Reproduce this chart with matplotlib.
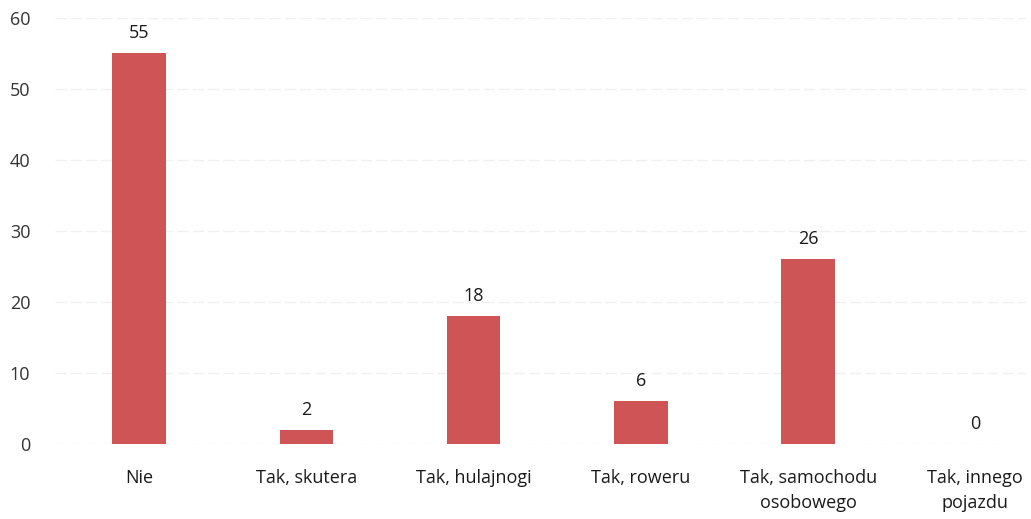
import matplotlib.pyplot as plt
import numpy as np

plt.rcParams['font.family'] = ['Open Sans', 'DejaVu Sans']

categories = ['Nie', 'Tak, skutera', 'Tak, hulajnogi', 'Tak, roweru',
              'Tak, samochodu\nosobowego', 'Tak, innego\npojazdu']
values = [55, 2, 18, 6, 26, 0]
yticks = [0, 10, 20, 30, 40, 50, 60]

fig = plt.figure(figsize=(10.31, 5.19), dpi=100)
ax = fig.add_axes([0.0537, 0.1445, 0.941, 0.821])

x = np.arange(len(categories))
bars = ax.bar(x, values, width=0.32, color='#CF5456', zorder=2)

# wartości nad słupkami
for xi, v in zip(x, values):
    ax.annotate(str(v), (xi, v), xytext=(0, 8), textcoords='offset points',
                ha='center', va='bottom', fontsize=13, color='#1a1a1a')

ax.set_xlim(-0.5, 5.3)
ax.set_ylim(0, 60)
ax.set_yticks(yticks)
ax.set_xticks(x)
ax.set_xticklabels(categories, fontsize=13, color='#1a1a1a', linespacing=1.5)
ax.tick_params(axis='y', labelsize=13, labelcolor='#333333', length=0, pad=18)
ax.tick_params(axis='x', length=0, pad=18)
for s in ax.spines.values():
    s.set_visible(False)
ax.yaxis.grid(True, color='#f0f0f0', linewidth=1, linestyle=(0, (8, 3)), zorder=0)

fig.savefig('out.png', dpi=100)
